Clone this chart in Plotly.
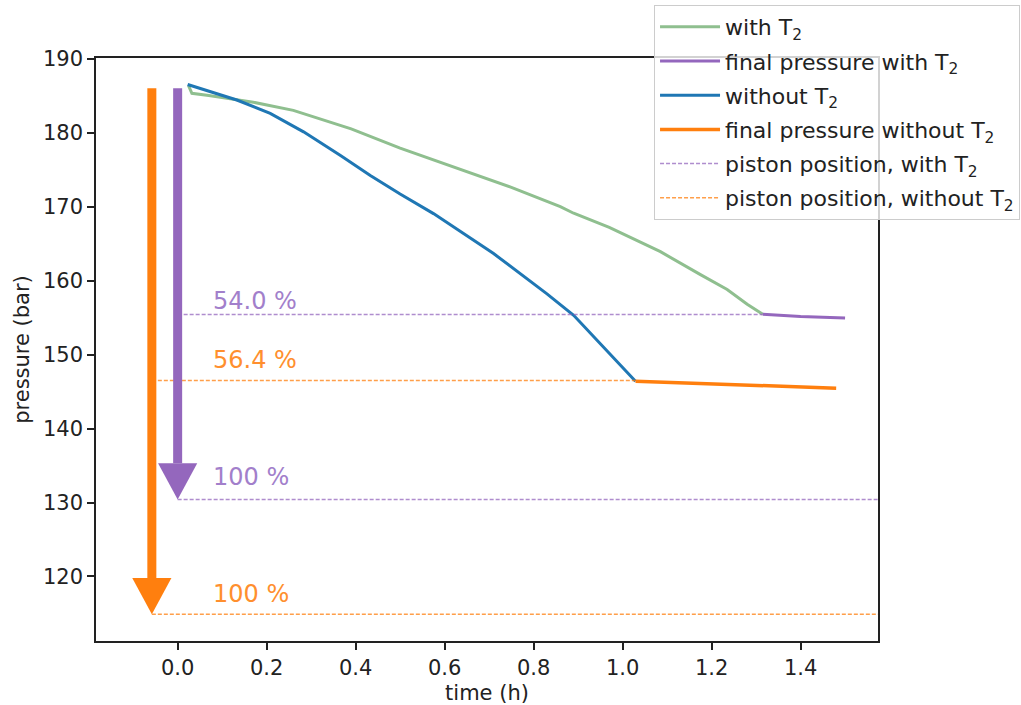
import plotly.graph_objects as go

# --- measured pressure curves -------------------------------------------
t_with = [0.024, 0.032, 0.07, 0.12, 0.17, 0.26, 0.33, 0.39, 0.50, 0.60, 0.65,
          0.75, 0.86, 0.89, 0.97, 1.04, 1.085, 1.175, 1.235, 1.28, 1.315]
p_with = [186.4, 185.3, 185.0, 184.5, 184.1, 183.0, 181.7, 180.5, 177.9, 175.8,
          174.7, 172.6, 170.0, 169.1, 167.2, 165.2, 163.9, 160.8, 158.8, 156.8, 155.45]

t_final_with = [1.315, 1.40, 1.50]
p_final_with = [155.45, 155.15, 154.95]

t_without = [0.0225, 0.066, 0.133, 0.208, 0.283, 0.366, 0.433, 0.50, 0.575,
             0.71, 0.83, 0.89, 0.95, 1.00, 1.029]
p_without = [186.5, 185.7, 184.4, 182.6, 180.1, 176.9, 174.2, 171.7, 169.05,
             163.65, 158.2, 155.3, 151.5, 148.3, 146.4]

t_final_without = [1.029, 1.25, 1.48]
p_final_without = [146.4, 145.95, 145.45]

# --- piston positions (dashed reference levels) -------------------------
piston_with_levels = [155.4, 130.4]          # 54.0 %, 100 %
piston_with_x = [[0.0, 1.315], [0.0, 1.65]]
piston_without_levels = [146.5, 114.9]       # 56.4 %, 100 %
piston_without_x = [[-0.058, 1.029], [-0.058, 1.65]]

pct_labels_with = ["54.0 %", "100 %"]
pct_y_with = [157.2, 133.5]
pct_labels_without = ["56.4 %", "100 %"]
pct_y_without = [149.3, 117.7]
pct_x = 0.074

# --- arrows: start pressure, x position, tip pressure --------------------
arrow_start = 186.0
arrow_x = {"with": 0.0, "without": -0.058}
arrow_tip = {"with": 130.4, "without": 114.9}

# styling
GREEN = "#8fbf8f"
BLUE = "#1f77b4"
ORANGE = "#ff7f0e"
PURPLE = "#9467bd"
PURPLE_LIGHT = "rgba(148,103,189,0.75)"
ORANGE_LIGHT = "rgba(255,127,14,0.75)"
FONT = "DejaVu Sans"
HEAD_HALF_W = 0.044   # arrow head half width (time units)
HEAD_LEN = 4.9        # arrow head length (bar)

fig = go.Figure()

fig.add_trace(go.Scatter(x=t_with, y=p_with, mode="lines", name="with T<sub>2</sub>",
                         line=dict(color=GREEN, width=3), legendgroup="a"))
fig.add_trace(go.Scatter(x=t_final_with, y=p_final_with, mode="lines",
                         name="final pressure with T<sub>2</sub>",
                         line=dict(color=PURPLE, width=3), legendgroup="b"))
fig.add_trace(go.Scatter(x=t_without, y=p_without, mode="lines", name="without T<sub>2</sub>",
                         line=dict(color=BLUE, width=3), legendgroup="c"))
fig.add_trace(go.Scatter(x=t_final_without, y=p_final_without, mode="lines",
                         name="final pressure without T<sub>2</sub>",
                         line=dict(color=ORANGE, width=3.5), legendgroup="d"))

for i, (lvl, xs) in enumerate(zip(piston_with_levels, piston_with_x)):
    fig.add_trace(go.Scatter(x=xs, y=[lvl, lvl], mode="lines",
                             name="piston position, with T<sub>2</sub>",
                             line=dict(color=PURPLE_LIGHT, width=1.5, dash="4px,2px"),
                             legendgroup="e", showlegend=(i == 0)))
for i, (lvl, xs) in enumerate(zip(piston_without_levels, piston_without_x)):
    fig.add_trace(go.Scatter(x=xs, y=[lvl, lvl], mode="lines",
                             name="piston position, without T<sub>2</sub>",
                             line=dict(color=ORANGE_LIGHT, width=1.5, dash="4px,2px"),
                             legendgroup="f", showlegend=(i == 0)))

# percentage labels
for txt, yv in zip(pct_labels_with, pct_y_with):
    fig.add_annotation(x=pct_x, y=yv, text=txt, showarrow=False, xanchor="left",
                       yanchor="middle", font=dict(family=FONT, size=24, color="#a27fcb"))
for txt, yv in zip(pct_labels_without, pct_y_without):
    fig.add_annotation(x=pct_x, y=yv, text=txt, showarrow=False, xanchor="left",
                       yanchor="middle", font=dict(family=FONT, size=24, color="#ff8f2e"))

# downward arrows: shaft + head
for key, color in (("without", ORANGE), ("with", PURPLE)):
    ax = arrow_x[key]
    tip = arrow_tip[key]
    fig.add_shape(type="line", xref="x", yref="y", x0=ax, x1=ax,
                  y0=arrow_start, y1=tip + HEAD_LEN, line=dict(color=color, width=9))
    fig.add_shape(type="path", xref="x", yref="y",
                  path=f"M {ax - HEAD_HALF_W},{tip + HEAD_LEN} L {ax + HEAD_HALF_W},{tip + HEAD_LEN} "
                       f"L {ax},{tip} Z",
                  fillcolor=color, line=dict(color=color, width=0))

axis_common = dict(showline=True, linecolor="#222", linewidth=1.6, mirror=True,
                   ticks="outside", ticklen=7, tickwidth=1.6, tickcolor="#222",
                   showgrid=False, zeroline=False,
                   tickfont=dict(family=FONT, size=21, color="#222"))

fig.update_layout(
    width=1021, height=705,
    margin=dict(l=96, r=143, t=58, b=64, autoexpand=False),
    paper_bgcolor="white", plot_bgcolor="white",
    font=dict(family=FONT, size=21, color="#222"),
    xaxis=dict(range=[-0.1835, 1.574], tickvals=[0, 0.2, 0.4, 0.6, 0.8, 1.0, 1.2, 1.4],
               tickformat=".1f",
               title=dict(text="time (h)", font=dict(family=FONT, size=21), standoff=6),
               **axis_common),
    yaxis=dict(range=[111.28, 190.08], tickvals=[120, 130, 140, 150, 160, 170, 180, 190],
               title=dict(text="pressure (bar)", font=dict(family=FONT, size=21), standoff=8),
               **axis_common),
    legend=dict(x=0.7136, y=1.0909, xanchor="left", yanchor="top",
                bgcolor="rgba(255,255,255,0.8)", bordercolor="#cccccc", borderwidth=1,
                font=dict(family=FONT, size=22, color="#222"),
                itemwidth=60,
                traceorder="grouped", tracegroupgap=2.6),
    showlegend=True,
)

fig.write_html("out.html")
